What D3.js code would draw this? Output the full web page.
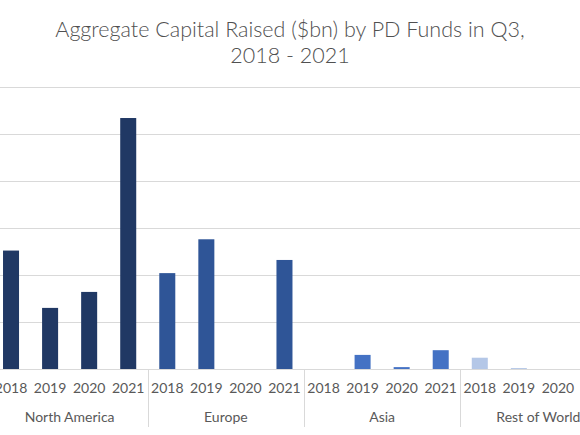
<!DOCTYPE html>
<html>
<head>
<meta charset="utf-8">
<script src="https://cdn.jsdelivr.net/npm/d3@7"></script>
<style>
  html, body { margin: 0; padding: 0; background: #fff; overflow: hidden; }
  svg text { font-family: Lato, "Open Sans", sans-serif; fill: #595959; }
</style>
</head>
<body>
<div id="chart"></div>
<script>
const regions = ['North America', 'Europe', 'Asia', 'Rest of World'];
const years = ['2018', '2019', '2020', '2021'];
const regionColors = ['#203864', '#2f5597', '#4472c4', '#b4c7e7'];
const northAmerica = [12.6, 6.5, 8.2, 26.7];
const europe = [10.2, 13.8, 0, 11.6];
const asia = [0, 1.5, 0.2, 2.0];
const restOfWorld = [1.2, 0.1, 0, 0];
const yTicks = [0, 5, 10, 15, 20, 25, 30];
const titleLines = ['Aggregate Capital Raised ($bn) by PD Funds in Q3,', '2018 - 2021'];

const seriesValues = [northAmerica, europe, asia, restOfWorld];
const rows = [];
regions.forEach((r, ri) => {
    years.forEach((y, yi) => {
        rows.push({ key: r + '|' + y, region: r, regionIndex: ri, year: y, value: seriesValues[ri][yi] });
    });
});

const width = 580;
const height = 435;
const plot = { left: -8.5, right: 616.5, top: 87, bottom: 369 };

const svg = d3.select('#chart')
    .append('svg')
    .attr('width', width)
    .attr('height', height);

const x = d3.scaleBand()
    .domain(rows.map(d => d.key))
    .range([plot.left, plot.right]);

const y = d3.scaleLinear()
    .domain([0, 30])
    .range([plot.bottom, plot.top]);

// title
svg.append('g')
    .selectAll('text')
    .data(titleLines)
    .enter()
    .append('text')
    .attr('x', width / 2)
    .attr('y', (d, i) => 37 + i * 26)
    .attr('text-anchor', 'middle')
    .style('font-size', '21.5px')
    .style('font-weight', 300)
    .style('fill', '#505050')
    .text(d => d);

// gridlines
const yAxis = d3.axisLeft(y)
    .tickValues(yTicks)
    .tickSize(-(plot.right - plot.left))
    .tickFormat('');

svg.append('g')
    .attr('transform', `translate(${plot.left},0)`)
    .call(yAxis)
    .call(g => g.select('.domain').remove())
    .call(g => g.selectAll('.tick line').attr('stroke', '#d9d9d9').attr('stroke-width', 1));

// bars
const barW = x.bandwidth() * 0.41;
svg.append('g')
    .selectAll('rect')
    .data(rows)
    .enter()
    .append('rect')
    .attr('x', d => x(d.key) + (x.bandwidth() - barW) / 2)
    .attr('y', d => y(d.value))
    .attr('width', barW)
    .attr('height', d => y(0) - y(d.value))
    .attr('fill', d => regionColors[d.regionIndex]);

// x axis line
svg.append('line')
    .attr('x1', plot.left)
    .attr('x2', plot.right)
    .attr('y1', y(0) + 0.5)
    .attr('y2', y(0) + 0.5)
    .attr('stroke', '#d9d9d9');

// year labels
svg.append('g')
    .selectAll('text')
    .data(rows)
    .enter()
    .append('text')
    .attr('x', d => x(d.key) + x.bandwidth() / 2)
    .attr('y', 393)
    .attr('text-anchor', 'middle')
    .style('font-size', '14px')
    .text(d => d.year);

// group separators
const groupEdges = regions.map(r => x(r + '|' + years[0])).concat([plot.right]);
svg.append('g')
    .selectAll('line')
    .data(groupEdges)
    .enter()
    .append('line')
    .attr('x1', d => Math.round(d) + 0.5)
    .attr('x2', d => Math.round(d) + 0.5)
    .attr('y1', y(0))
    .attr('y2', 427)
    .attr('stroke', '#d9d9d9');

// region labels
svg.append('g')
    .selectAll('text')
    .data(regions)
    .enter()
    .append('text')
    .attr('x', (r, i) => (groupEdges[i] + groupEdges[i + 1]) / 2)
    .attr('y', 422)
    .attr('text-anchor', 'middle')
    .style('font-size', '14px')
    .text(d => d);
</script>
</body>
</html>
